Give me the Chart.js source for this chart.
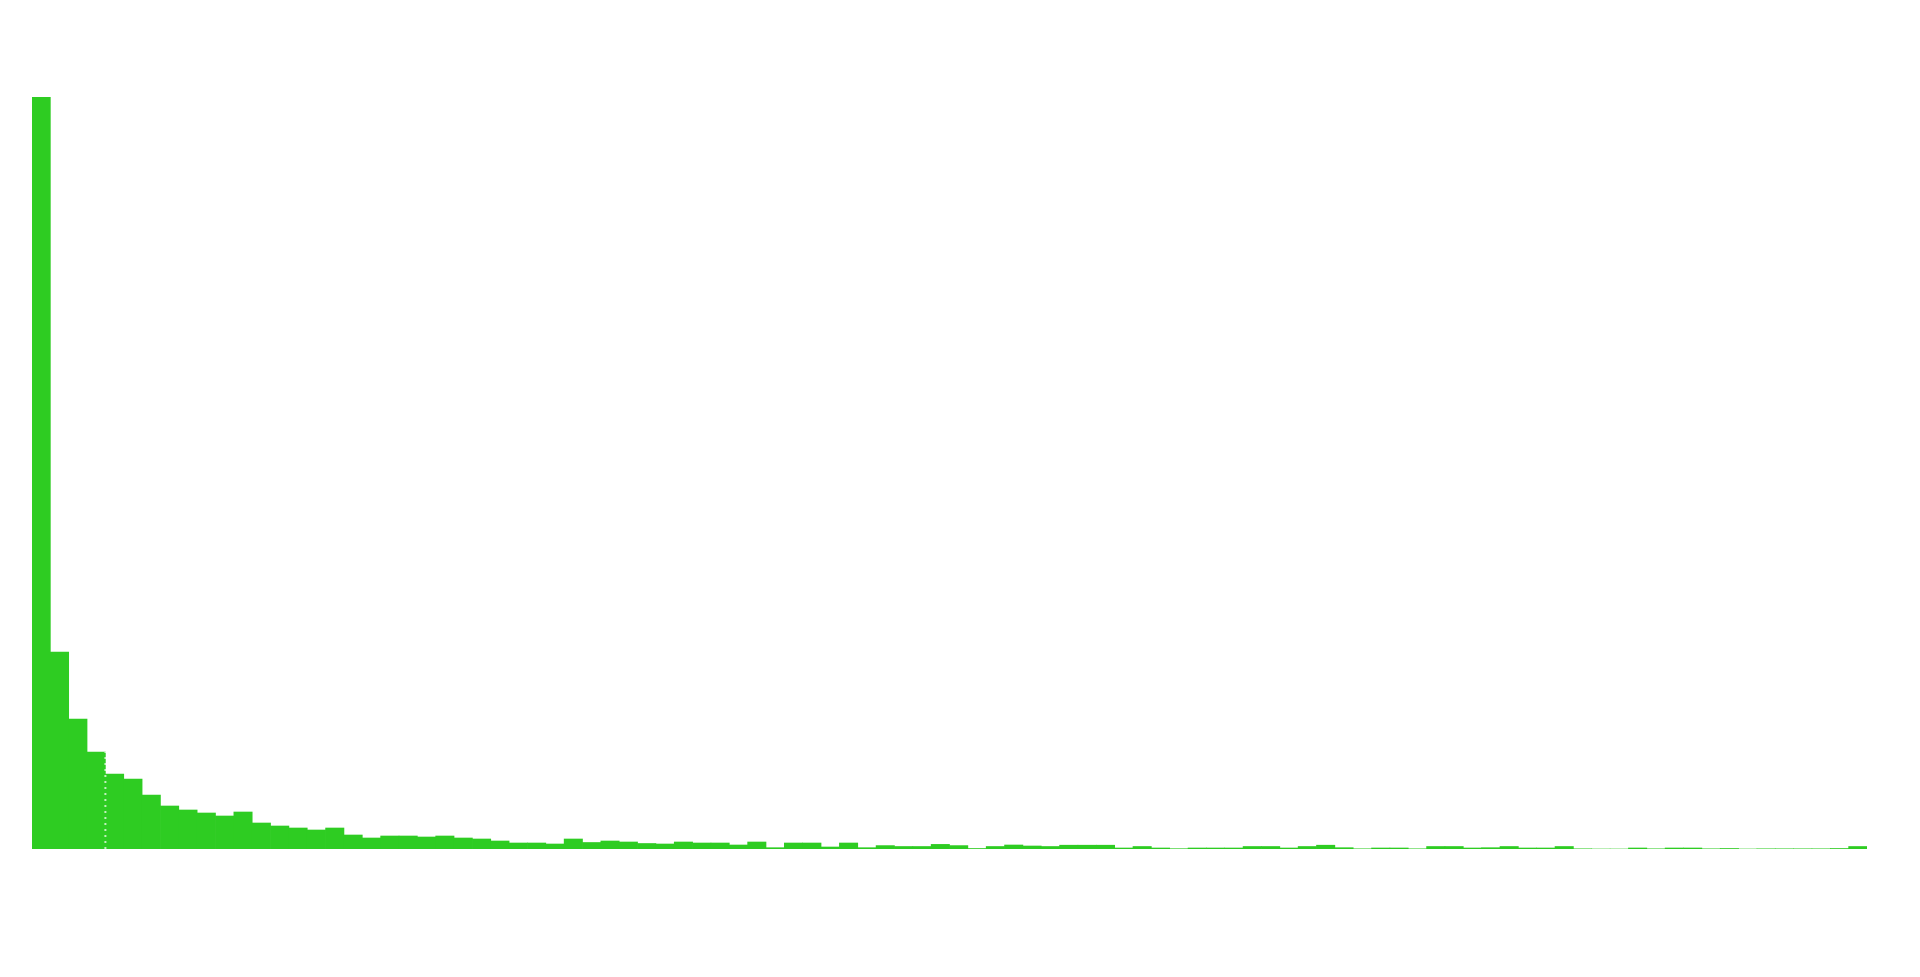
<!DOCTYPE html>
<html>
<head>
<meta charset="utf-8">
<script src="https://cdn.jsdelivr.net/npm/chart.js@4/dist/chart.umd.min.js"></script>
<style>
  html, body { margin: 0; padding: 0; background: #fff; }
  #wrap { width: 1920px; height: 977px; }
</style>
</head>
<body>
<div id="wrap"><canvas id="chart"></canvas></div>
<script>
// bin values
const counts = [
  752, 197, 130, 97, 75, 70, 54, 43, 39, 36,
  33, 37, 26, 23, 21, 19, 21, 14, 11, 13,
  13, 12, 13, 11, 10, 8, 6, 6, 5, 10,
  6.5, 8, 7, 5.5, 5, 7, 6, 6, 4, 7,
  1.3, 6, 6, 2, 6, 1.3, 3.4, 2.5, 2.5, 4.6,
  3.4, 0.5, 2.5, 4, 3, 2.5, 3.8, 3.8, 3.8, 1,
  2.5, 1, 0.3, 1, 1, 1, 2.5, 2.5, 1, 2.5,
  3.8, 1.3, 0.2, 1, 1, 0.2, 2.5, 2.5, 1, 1.3,
  2.5, 1, 1, 2.5, 0.2, 0, 0, 1, 0.2, 1,
  1, 0.2, 0.5, 0, 0.2, 0.2, 0.2, 0.2, 0.5, 2.5
];
const bins = counts.map((_, i) => String(i + 1));
const markerBin = 3; // dotted line at right edge of this bin

const markerLine = {
  id: 'markerLine',
  afterDatasetsDraw(chart) {
    const x = chart.scales.x, y = chart.scales.y;
    const px = (x.getPixelForValue(markerBin) + x.getPixelForValue(markerBin + 1)) / 2;
    const ctx = chart.ctx;
    ctx.save();
    ctx.strokeStyle = 'rgba(255,255,255,0.7)';
    ctx.lineWidth = 2;
    ctx.setLineDash([2, 4]);
    ctx.beginPath();
    ctx.moveTo(px, y.getPixelForValue(0));
    ctx.lineTo(px, y.getPixelForValue(counts[markerBin]));
    ctx.stroke();
    ctx.restore();
  }
};

new Chart(document.getElementById('chart'), {
  type: 'bar',
  data: {
    labels: bins,
    datasets: [{
      data: counts,
      backgroundColor: 'rgb(46,204,34)',
      borderWidth: 0,
      barPercentage: 1,
      categoryPercentage: 1
    }]
  },
  options: {
    responsive: true,
    maintainAspectRatio: false,
    animation: false,
    layout: { padding: { top: 97, bottom: 128, left: 32, right: 53 } },
    plugins: { legend: { display: false }, tooltip: { enabled: false } },
    scales: {
      x: { display: false },
      y: { display: false, min: 0, max: 752 }
    }
  },
  plugins: [markerLine]
});
</script>
</body>
</html>
